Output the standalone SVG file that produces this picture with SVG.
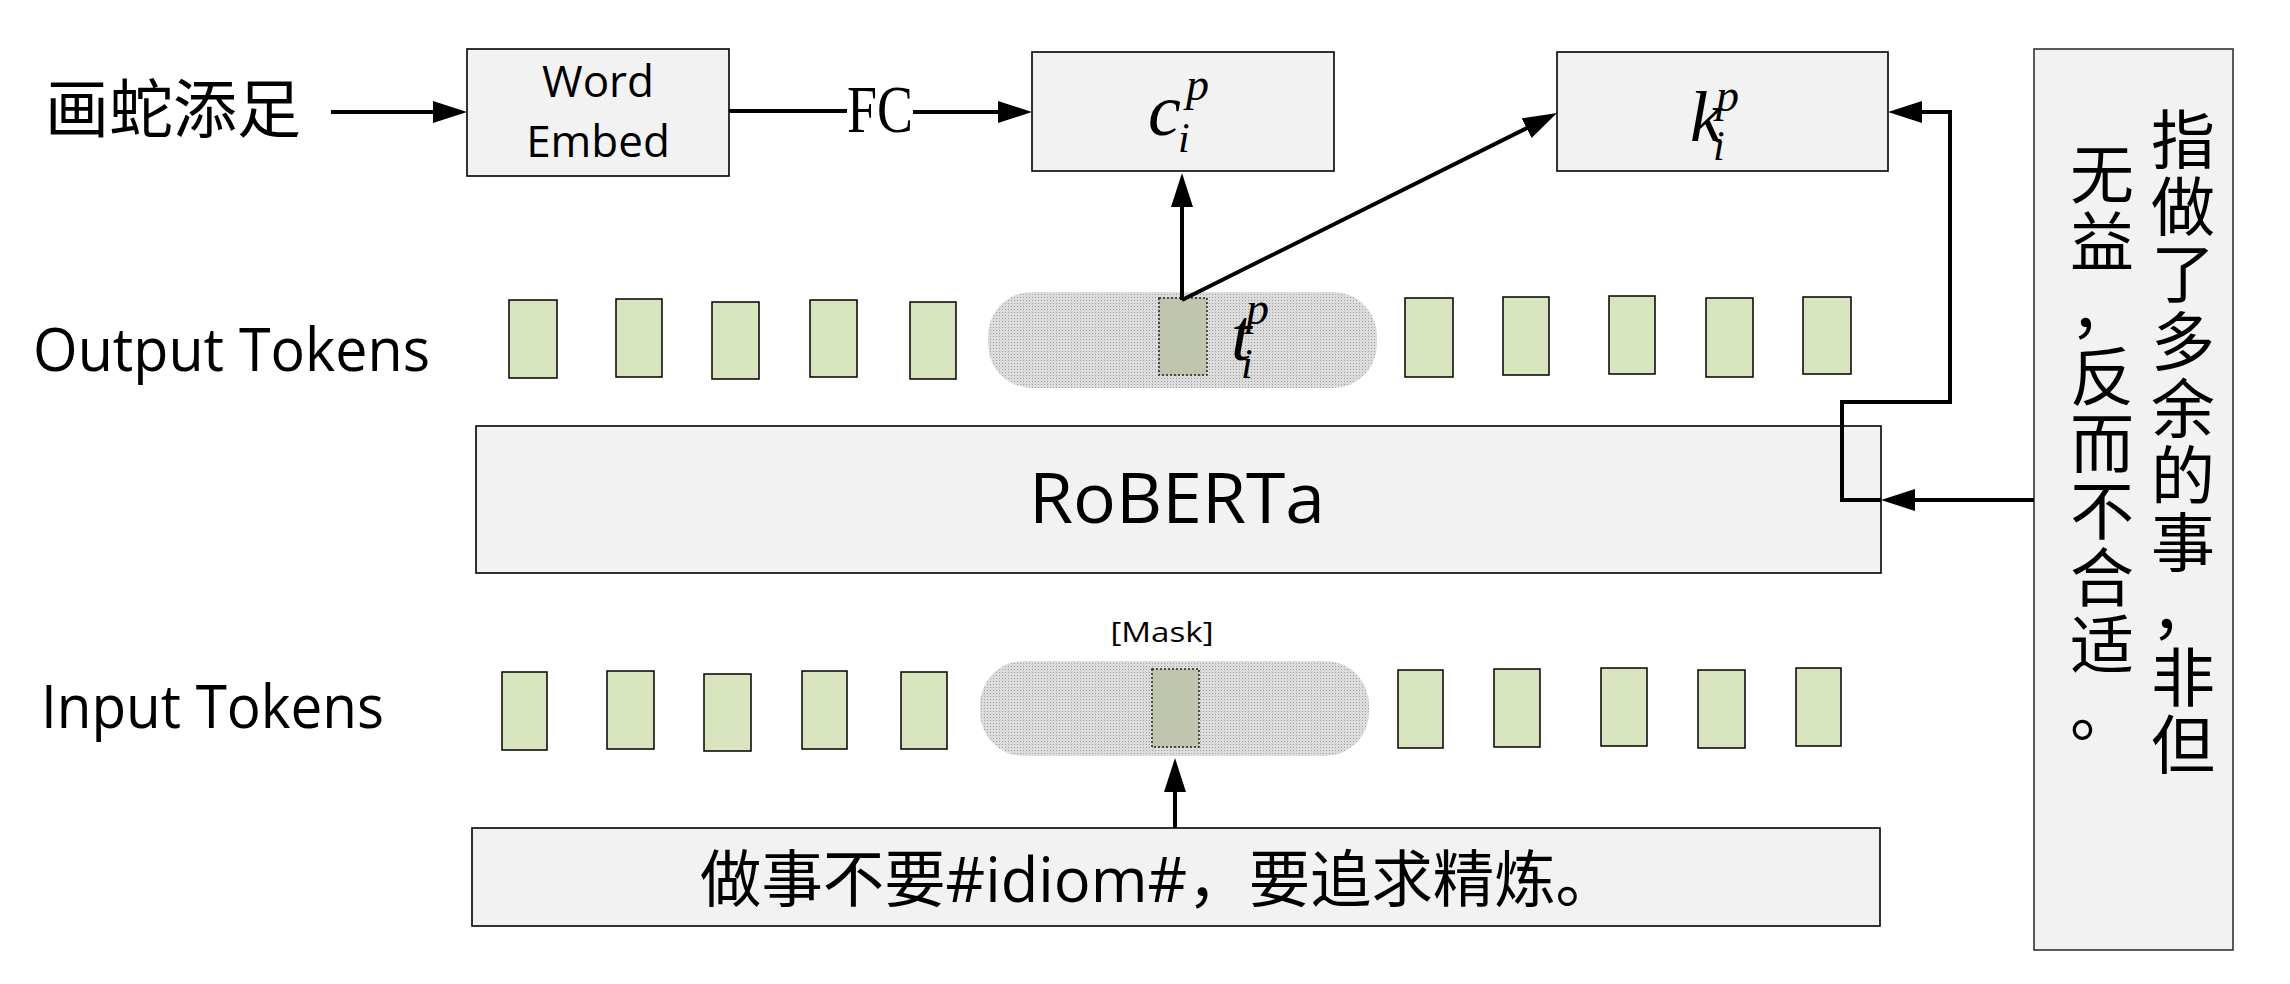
<svg xmlns="http://www.w3.org/2000/svg" width="2290" height="984" viewBox="0 0 2290 984">
<style>
.box{fill:#f2f2f2;stroke:#000;stroke-width:1.6}
.tok{fill:#d7e4bd;stroke:#000;stroke-width:1.5}
.dark{fill:#bfc6ad;stroke:#222;stroke-width:1.5;stroke-dasharray:2 2}
.pill{fill:url(#dots);stroke:none}
.ui{font-family:"Open Sans","Noto Sans","Noto Sans CJK SC",sans-serif;fill:#000}
.cjk{font-family:"Noto Sans CJK SC","Noto Sans",sans-serif;fill:#000}
.math{font-family:"Liberation Serif","DejaVu Serif",serif;font-style:italic;fill:#000}
.serif{font-family:"Liberation Serif","DejaVu Serif",serif;fill:#000}
.con{fill:none;stroke:#000;stroke-width:4}
</style>
<defs>
<pattern id="dots" width="3" height="3" patternUnits="userSpaceOnUse">
<rect width="3" height="3" fill="#dcdcdc"/>
<rect width="1" height="1" fill="#a0a0a0"/>
</pattern>
<marker id="arr" viewBox="0 0 34 22" refX="22" refY="11" markerWidth="34" markerHeight="22" markerUnits="userSpaceOnUse" orient="auto">
<path d="M0,0 L34,11 L0,22 Z" fill="#000"/>
</marker>
</defs>
<rect width="2290" height="984" fill="#fff"/>

<g id="idiom-label">
<text class="cjk" x="45" y="132" font-size="64">画蛇添足</text>
</g>

<g id="word-embed">
<rect class="box" x="467" y="49" width="262" height="127"/>
<text class="ui" x="598" y="97" font-size="44" text-anchor="middle">Word</text>
<text class="ui" x="598" y="157" font-size="44" text-anchor="middle">Embed</text>
</g>

<g id="c-box">
<rect class="box" x="1032" y="52" width="302" height="119"/>
<text class="math" x="1148" y="135" font-size="74">c</text>
<text class="math" x="1186" y="100" font-size="46">p</text>
<text class="math" x="1178" y="152" font-size="42">i</text>
</g>

<g id="k-box">
<rect class="box" x="1557" y="52" width="331" height="119"/>
<text class="math" x="1690" y="141" font-size="72">k</text>
<text class="math" x="1716" y="111" font-size="46">p</text>
<text class="math" x="1713" y="160" font-size="42">i</text>
</g>

<g id="definition-box">
<rect x="2034" y="49" width="199" height="901" fill="#f2f2f2" stroke="#333" stroke-width="1.6"/>
<text class="cjk" font-size="64" text-anchor="middle"><tspan x="2183" y="163">指</tspan><tspan x="2183" y="230">做</tspan><tspan x="2183" y="297">了</tspan><tspan x="2183" y="365">多</tspan><tspan x="2183" y="432">余</tspan><tspan x="2183" y="499">的</tspan><tspan x="2183" y="566">事</tspan><tspan x="2183" y="633">，</tspan><tspan x="2183" y="701">非</tspan><tspan x="2183" y="768">但</tspan></text>
<text class="cjk" font-size="64" text-anchor="middle"><tspan x="2102" y="198">无</tspan><tspan x="2102" y="265">益</tspan><tspan x="2102" y="332">，</tspan><tspan x="2102" y="400">反</tspan><tspan x="2102" y="467">而</tspan><tspan x="2102" y="534">不</tspan><tspan x="2102" y="601">合</tspan><tspan x="2102" y="668">适</tspan><tspan x="2102" y="735">。</tspan></text>
</g>

<g id="output-label">
<text class="ui" x="33" y="371" font-size="60" textLength="397" lengthAdjust="spacingAndGlyphs">Output Tokens</text>
</g>

<g id="output-tokens">
<rect class="pill" x="988" y="292" width="389" height="96" rx="44" ry="44"/>
<rect class="tok" x="509" y="300" width="48" height="78"/>
<rect class="tok" x="616" y="299" width="46" height="78"/>
<rect class="tok" x="712" y="302" width="47" height="77"/>
<rect class="tok" x="810" y="300" width="47" height="77"/>
<rect class="tok" x="910" y="302" width="46" height="77"/>
<rect class="dark" x="1159" y="298" width="48" height="77"/>
<rect class="tok" x="1405" y="298" width="48" height="79"/>
<rect class="tok" x="1503" y="297" width="46" height="78"/>
<rect class="tok" x="1609" y="296" width="46" height="78"/>
<rect class="tok" x="1706" y="298" width="47" height="79"/>
<rect class="tok" x="1803" y="297" width="48" height="77"/>
<text class="math" x="1231" y="360" font-size="74">t</text>
<text class="math" x="1246" y="324" font-size="46">p</text>
<text class="math" x="1241" y="378" font-size="42">i</text>
</g>

<g id="roberta">
<rect class="box" x="476" y="426" width="1405" height="147"/>
<text class="ui" x="1177" y="523" font-size="70" text-anchor="middle" textLength="296" lengthAdjust="spacingAndGlyphs">RoBERTa</text>
</g>

<g id="input-label">
<text class="ui" x="41" y="728" font-size="60" textLength="343" lengthAdjust="spacingAndGlyphs">Input Tokens</text>
</g>

<g id="input-tokens">
<rect class="pill" x="980" y="661" width="389" height="95" rx="44" ry="44"/>
<rect class="tok" x="502" y="672" width="45" height="78"/>
<rect class="tok" x="607" y="671" width="47" height="78"/>
<rect class="tok" x="704" y="674" width="47" height="77"/>
<rect class="tok" x="802" y="671" width="45" height="78"/>
<rect class="tok" x="901" y="672" width="46" height="77"/>
<rect class="dark" x="1152" y="669" width="47" height="78"/>
<rect class="tok" x="1398" y="670" width="45" height="78"/>
<rect class="tok" x="1494" y="669" width="46" height="78"/>
<rect class="tok" x="1601" y="668" width="46" height="78"/>
<rect class="tok" x="1698" y="670" width="47" height="78"/>
<rect class="tok" x="1796" y="668" width="45" height="78"/>
<text class="ui" x="1162" y="642" font-size="28" text-anchor="middle" textLength="103" lengthAdjust="spacingAndGlyphs">[Mask]</text>
</g>

<g id="sentence-box">
<rect class="box" x="472" y="828" width="1408" height="98"/>
<text class="cjk" x="700" y="902" font-size="62" textLength="917" lengthAdjust="spacingAndGlyphs">做事不要<tspan class="ui">#idiom#</tspan>，要追求精炼。</text>
</g>

<g id="connectors">
<path class="con" d="M331,112 H455" marker-end="url(#arr)"/>
<path class="con" d="M729,111 H847"/>
<text class="serif" x="847" y="132" font-size="68" textLength="66" lengthAdjust="spacingAndGlyphs">FC</text>
<path class="con" d="M913,112 H1020" marker-end="url(#arr)"/>
<path class="con" d="M1182,300 V185" marker-end="url(#arr)"/>
<path class="con" d="M1182,300 L1546.3,118.4" stroke-width="3.5" marker-end="url(#arr)"/>
<path class="con" d="M1175,828 V770" marker-end="url(#arr)"/>
<path class="con" d="M2034,500 H1893" marker-end="url(#arr)"/>
<path class="con" d="M1881,500 H1842 V402 H1950 V112 H1900" marker-end="url(#arr)"/>
</g>
</svg>
